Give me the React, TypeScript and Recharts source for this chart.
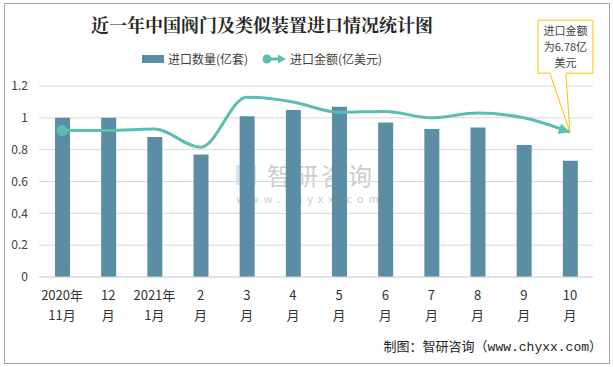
import React from "react";
import {
  ComposedChart,
  Bar,
  Line,
  XAxis,
  YAxis,
  CartesianGrid,
  ReferenceDot,
} from "recharts";

const months = [
  "2020年\n11月",
  "12\n月",
  "2021年\n1月",
  "2\n月",
  "3\n月",
  "4\n月",
  "5\n月",
  "6\n月",
  "7\n月",
  "8\n月",
  "9\n月",
  "10\n月",
];
const importVolume = [1.0, 1.0, 0.88, 0.77, 1.01, 1.05, 1.07, 0.97, 0.93, 0.94, 0.83, 0.73];
const importValue = [0.92, 0.92, 0.93, 0.815, 1.13, 1.1, 1.035, 1.04, 1.0, 1.03, 1.0, 0.91];
const yTicks = [0, 0.2, 0.4, 0.6, 0.8, 1, 1.2];
const calloutLines = ["进口金额", "为6.78亿", "美元"];

const BAR = "#5b8da5";
const LINE = "#5dbdb1";
const FONT = '"Noto Sans CJK SC", "Noto Sans", sans-serif';

const data = months.map((m, i) => ({
  month: m,
  volume: importVolume[i],
  value: importValue[i],
}));

function MonthTick(props: any) {
  const { x, y, payload } = props;
  const [a, b] = String(payload.value).split("\n");
  return (
    <g transform={`translate(${x},${y})`}>
      <text textAnchor="middle" fontSize={13} fill="#333" fontFamily={FONT}>
        <tspan x={0} dy={15}>{a}</tspan>
        <tspan x={0} dy={20}>{b}</tspan>
      </text>
    </g>
  );
}

function LineDot(props: any) {
  const { cx, cy, index } = props;
  if (index === 0) return <circle key="d0" cx={cx} cy={cy} r={5.5} fill={LINE} />;
  if (index === months.length - 1) {
    // arrow head along the last segment
    const ang = Math.atan2(10, 31);
    const len = 11;
    const hw = 5.5;
    const bx = cx - len * Math.cos(ang);
    const by = cy - len * Math.sin(ang);
    const px = -Math.sin(ang) * hw;
    const py = Math.cos(ang) * hw;
    return (
      <polygon
        key="dl"
        points={`${cx},${cy} ${bx + px},${by + py} ${bx - px},${by - py}`}
        fill={LINE}
      />
    );
  }
  return <g key={`d${index}`} />;
}

function Callout(props: any) {
  const { cx, cy } = props;
  const l = cx - 32;
  const r = cx + 23;
  const t = cy - 112;
  const btm = cy - 59;
  const mid = (l + r) / 2;
  return (
    <g>
      <path
        d={`M${l},${t} L${r},${t} L${r},${btm} L${cx - 4},${btm} L${cx},${cy} L${cx - 20},${btm} L${l},${btm} Z`}
        fill="#fff"
        stroke="#ffc000"
        strokeWidth={1}
      />
      {calloutLines.map((s, i) => (
        <text
          key={s}
          x={mid}
          y={t + 15 + i * 16}
          textAnchor="middle"
          fontSize={11}
          fill="#404040"
          fontFamily={FONT}
        >
          {s}
        </text>
      ))}
    </g>
  );
}

export default function App() {
  return (
    <div
      style={{
        position: "absolute",
        left: 0,
        top: 0,
        width: 613,
        height: 367,
        background: "#fff",
        fontFamily: FONT,
      }}
    >
      <div
        style={{
          position: "absolute",
          left: 4,
          top: 3,
          width: 604,
          height: 359,
          border: "1px solid #a6a6a6",
        }}
      />
      {/* watermark */}
      <div style={{ position: "absolute", left: 236, top: 157, color: "#cccccc" }}>
        <div style={{ display: "flex", alignItems: "center" }}>
          <div style={{ width: 20, height: 20, background: "#dbe5f1", marginRight: 11 }} />
          <span style={{ fontSize: 24, letterSpacing: 3 }}>智研咨询</span>
        </div>
        <div style={{ fontSize: 11, letterSpacing: 5, marginTop: -2 }}>
          www.chyxx.com
        </div>
      </div>
      <div
        style={{
          position: "absolute",
          left: 0,
          top: 11,
          width: 524,
          textAlign: "center",
          fontSize: 18,
          fontWeight: 700,
          color: "#262626",
          fontFamily: '"Noto Serif CJK SC", "Noto Sans CJK SC", serif',
        }}
      >
        近一年中国阀门及类似装置进口情况统计图
      </div>
      <div
        style={{
          position: "absolute",
          left: 0,
          top: 50,
          width: 524,
          display: "flex",
          justifyContent: "center",
          alignItems: "center",
          fontSize: 12,
          color: "#404040",
        }}
      >
        <span style={{ width: 22, height: 8, background: BAR, marginRight: 4 }} />
        <span style={{ marginRight: 14 }}>进口数量(亿套)</span>
        <svg width={24} height={12} style={{ marginRight: 4 }}>
          <line x1={5} y1={6} x2={18} y2={6} stroke={LINE} strokeWidth={3} />
          <circle cx={5} cy={6} r={4.5} fill={LINE} />
          <polygon points="24,6 16,1.5 16,10.5" fill={LINE} />
        </svg>
        <span>进口金额(亿美元)</span>
      </div>
      <div
        style={{
          position: "absolute",
          right: 11,
          top: 336,
          fontSize: 13,
          color: "#262626",
          fontFamily: '"Liberation Mono", "Noto Sans CJK SC", monospace',
        }}
      >
        制图：智研咨询（www.chyxx.com）
      </div>
      <div style={{ position: "absolute", left: 0, top: 0 }}>
        <ComposedChart
          width={613}
          height={367}
          data={data}
          margin={{ top: 86, right: 20, bottom: 0, left: 0 }}
        >
          <CartesianGrid vertical={false} stroke="#d9d9d9" />
          <XAxis
            dataKey="month"
            interval={0}
            height={90}
            tick={<MonthTick />}
            tickLine={false}
            axisLine={{ stroke: "#d9d9d9" }}
          />
          <YAxis
            domain={[0, 1.2]}
            ticks={yTicks}
            width={39}
            tickLine={false}
            axisLine={false}
            tickMargin={5}
            tick={{ fontSize: 12, fill: "#404040", fontFamily: FONT }}
          />
          <Bar dataKey="volume" fill={BAR} barSize={15} isAnimationActive={false} />
          <Line
            dataKey="value"
            type="monotone"
            stroke={LINE}
            strokeWidth={3}
            dot={LineDot}
            activeDot={false}
            isAnimationActive={false}
          />
          <ReferenceDot
            x={months[months.length - 1]}
            y={importValue[importValue.length - 1]}
            shape={Callout}
            ifOverflow="visible"
          />
        </ComposedChart>
      </div>
    </div>
  );
}
